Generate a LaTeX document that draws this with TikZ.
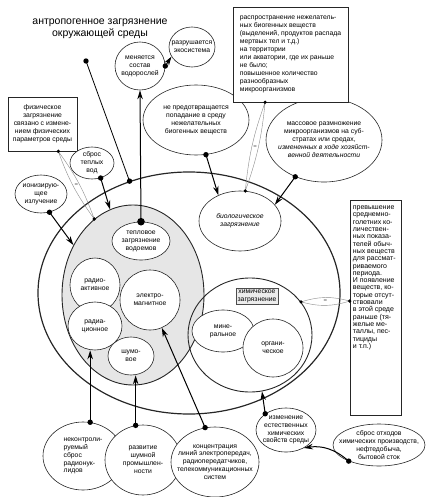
\documentclass[tikz,border=0pt]{standalone}
\usepackage{fontspec}
\setmainfont{Liberation Sans}
\usepackage{tikz}
\usetikzlibrary{arrows.meta,positioning,fit,backgrounds,shapes}
\definecolor{physgray}{HTML}{E6E6E6}
\definecolor{lblgray}{HTML}{ECECEC}
\definecolor{lensgray}{HTML}{8A8A8A}
\tikzset{
  ellnode/.style={ellipse,draw=black!85,line width=0.6pt,fill=white,inner xsep=-8pt,inner ysep=-4pt,align=center,font=\fontsize{6.8}{7.9}\selectfont},
  txtbox/.style={rectangle,draw=black!85,line width=0.6pt,fill=white,inner sep=2pt,font=\fontsize{6.8}{8}\selectfont},
  diredge/.style={-{Stealth[length=9pt,width=5.5pt]},line width=1pt,black},
  plainedge/.style={line width=0.8pt,black},
  lensedge/.style={lensgray,line width=0.4pt},
  eqmark/.style={font=\fontsize{6}{6}\selectfont,text=black!70,inner sep=0pt},
}

\begin{document}
\begin{tikzpicture}[x=1pt,y=-1pt]
  \useasboundingbox (0,0) rectangle (434,497);
  \node[font=\fontsize{10.5}{11.5}\selectfont,align=center] (nTitle) at (100,29) {антропогенное загрязнение\\окружающей среды};
  \coordinate (cTitle) at (86,61);
  % big ellipses
  \node[ellnode,line width=1.2pt,fill=none,minimum width=302pt,minimum height=242pt] (nOuter) at (189,293) {};
  \node[ellnode,line width=0.9pt,fill=physgray,minimum width=142pt,minimum height=180pt] (nPhys) at (133,295) {};
  \node[ellnode,line width=0.9pt,fill=none,minimum width=124pt,minimum height=114pt] (nChem) at (250,335) {};
  \node[ellnode,minimum width=82pt,minimum height=60pt,font=\fontsize{6.8}{7.9}\selectfont\itshape] (nBio) at (240,221) {биологическое\\загрязнение};
  % physical
  \node[ellnode,minimum width=58pt,minimum height=38pt] (nHeat) at (141,241) {тепловое\\загрязнение\\водоемов};
  \node[ellnode,minimum width=50pt,minimum height=54pt] (nRadio) at (95,285) {радио-\\активное};
  \node[ellnode,minimum width=54pt,minimum height=48pt] (nRadiat) at (95,326) {радиа-\\ционное};
  \node[ellnode,minimum width=60pt,minimum height=60pt] (nEM) at (150,300) {электро-\\магнитное};
  \node[ellnode,minimum width=46pt,minimum height=38pt] (nShum) at (131,356) {шумо-\\вое};
  % chemical
  \node[draw=black!70,fill=lblgray,line width=0.5pt,inner sep=1.5pt,align=center,font=\fontsize{6.8}{7.9}\selectfont] (nChemLbl) at (257,296) {химическое\\загрязнение};
  \node[ellnode,minimum width=62pt,minimum height=42pt] (nMin) at (223,331) {мине-\\ральное};
  \node[ellnode,minimum width=60pt,minimum height=58pt] (nOrg) at (273,348) {органи-\\ческое};
  % top
  \node[ellnode,minimum width=50pt,minimum height=48pt] (nAlgae) at (140,66) {меняется\\состав\\водорослей};
  \node[ellnode,minimum width=46pt,minimum height=40pt] (nEco) at (192,47) {разрушается\\экосистема};
  \node[ellnode,minimum width=106pt,minimum height=70pt] (nBarrier) at (196,120) {не предотвращается\\попадание в среду\\нежелательных\\биогенных веществ};
  \node[ellnode,minimum width=116pt,minimum height=84pt] (nMass) at (324,140) {массовое размножение\\микроорганизмов на суб-\\стратах или средах,\\\textit{измененных в ходе хозяйст-}\\\textit{венной деятельности}};
  \node[txtbox,minimum width=115pt,minimum height=95pt,align=left] (nBioBox) at (290.5,54.5) {распространение нежелатель-\\ных биогенных веществ\\(выделений, продуктов распада\\мертвых тел и т.д.)\\на территории\\или акватории, где их раньше\\не было;\\повышенное количество\\разнообразных\\микроорганизмов};
  % left
  \node[txtbox,minimum width=69pt,minimum height=54pt,align=center] (nPhysBox) at (42.5,124) {физическое\\загрязнение\\связано с измене-\\нием физических\\параметров среды};
  \node[ellnode,minimum width=44pt,minimum height=32pt] (nWarm) at (92,163) {сброс\\теплых\\вод};
  \node[ellnode,minimum width=52pt,minimum height=38pt] (nIon) at (41,194) {ионизирую-\\щее\\излучение};
  % right
  \node[txtbox,minimum width=51pt,minimum height=215pt] (nChemBox) at (375.5,307.5) {};
  \node[anchor=north west,inner sep=0pt,align=left,font=\fontsize{7}{7.3}\selectfont] (nChemTxt) at ([xshift=3pt,yshift=-6pt]nChemBox.north west) {превышение\\среднемно-\\голетних ко-\\личествен-\\ных показа-\\телей обыч-\\ных веществ\\для рассмат-\\риваемого\\периода.\\И появление\\веществ, ко-\\торые отсут-\\ствовали\\в этой среде\\раньше (тя-\\желые ме-\\таллы, пес-\\тициды\\и т.п.)};
  % bottom
  \node[ellnode,minimum width=80pt,minimum height=68pt,align=left] (nNuclide) at (83,456) {неконтроли-\\руемый\\сброс\\радионук-\\лидов};
  \node[ellnode,minimum width=76pt,minimum height=70pt] (nNoise) at (143,460) {развитие\\шумной\\промышлен-\\ности};
  \node[ellnode,inner xsep=-16pt,minimum width=88pt,minimum height=70pt] (nConc) at (215,462) {концентрация\\линий электропередач,\\радиопередатчиков,\\телекоммуникационных\\систем};
  \node[ellnode,minimum width=60pt,minimum height=44pt] (nChange) at (286,430) {изменение\\естественных\\химических\\свойств среды};
  \node[ellnode,inner xsep=-16pt,minimum width=92pt,minimum height=42pt] (nWaste) at (379,445) {сброс отходов\\химических производств,\\нефтедобыча,\\бытовой сток};
  % connectors
  \draw[plainedge] (cTitle) -- (nOuter.118);
  \draw[diredge] (nHeat.north) -- (nAlgae.south);
  \draw[diredge] (nAlgae.east) -- (nEco.205);
  \draw[diredge] (nWarm.-60) -- (nPhys.105);
  \draw[diredge] (nIon.-65) -- (nPhys.140);
  \draw[diredge] (nBarrier.-74) -- (nBio.130);
  \draw[diredge] (nMass.-128) -- (nBio.25);
  \draw[diredge] (nNuclide.78) -- (nNuclide.78 |- nRadiat.south);
  \draw[diredge] (nNoise.102) -- (nNoise.102 |- nShum.south);
  \draw[diredge] (nConc.106) -- (nEM.-67);
  \draw[diredge] (nChange.142) -- (nChem.-78);
  \draw[diredge] (nWaste.-152) to[bend right=25] (nChange.-45);
  \foreach \p in {cTitle,nOuter.118,nAlgae.east,nWarm.-60,nIon.-65,nBarrier.-74,nMass.-128,nNuclide.78,nNoise.102,nConc.106,nChange.142,nWaste.-152}
    \fill (\p) circle (2.7pt);
  \fill (nHeat.north) circle (3.8pt);
  % lenses
  \draw[lensedge] (nPhysBox.-60) to[bend left=8] (nPhys.117) (nPhysBox.-60) to[bend right=8] (nPhys.117);
  \path (nPhysBox.-60) -- node[eqmark] (eqPhys) {=} (nPhys.117);
  \draw[lensedge] (nBioBox.-118) to[bend left=7] (nBio.80) (nBioBox.-118) to[bend right=7] (nBio.80);
  \path (nBioBox.-118) -- node[eqmark] (eqBio) {=} (nBio.80);
  \draw[lensedge] (nChem.33) to[bend left=16] (nChemBox.166) (nChem.33) to[bend right=16] (nChemBox.166);
  \path (nChem.33) -- node[eqmark] (eqChem) {=} (nChemBox.166);
  \foreach \p in {nPhysBox.-60,nPhys.117,nBioBox.-118,nBio.80,nChem.33,nChemBox.166}
    \fill (\p) circle (1.8pt);
\end{tikzpicture}
\end{document}
